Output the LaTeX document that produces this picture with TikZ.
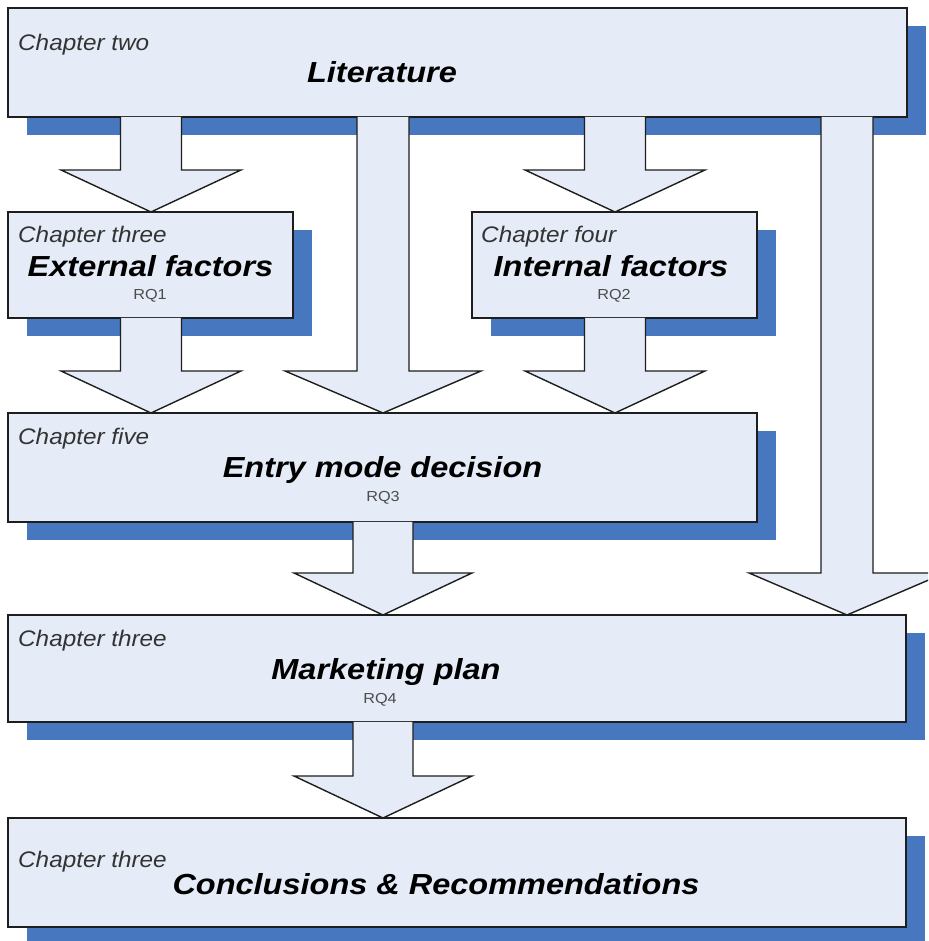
\documentclass[tikz,border=0pt]{standalone}
\usepackage{fontspec}
\usetikzlibrary{calc,shadows}

\newfontfamily\chapfont[FakeStretch=1.08]{Liberation Sans}
\newfontfamily\headfont[FakeStretch=1.12]{Liberation Sans}
\newfontfamily\rqfont[FakeStretch=1.12]{Liberation Sans}

\definecolor{boxfill}{HTML}{E6ECF7}
\definecolor{shadowblue}{HTML}{4677BF}
\definecolor{edge}{HTML}{1E1E1E}

\tikzset{
  box/.style={draw=edge, line width=1.4pt, fill=boxfill, inner sep=0pt, outer sep=0pt,
    drop shadow={shadow xshift=19pt, shadow yshift=-18pt, fill=shadowblue, opacity=1}},
  chap/.style={font=\chapfont\itshape\fontsize{22.5}{26}\selectfont, text=black!80,
    inner sep=0pt, anchor=base west},
  head/.style={font=\headfont\bfseries\itshape\fontsize{29}{34}\selectfont, text=black,
    inner sep=0pt, anchor=base},
  rq/.style={font=\rqfont\fontsize{14.5}{17}\selectfont, text=black!70,
    inner sep=0pt, anchor=base},
  fat/.style={fill=boxfill, draw=edge, line width=1.4pt, line join=miter}
}

% Block arrow from the bottom of one box to the top of another:
% source, target, axis x, shaft half width, head half width
\newcommand\fatarrow[5]{%
  \path[fat] let \p1=(#1.south), \p2=(#2.north) in
    (#3pt-#4pt,\y1) -- (#3pt-#4pt,\y2+42pt) -- (#3pt-#5pt,\y2+42pt) -- (#3pt,\y2)
    -- (#3pt+#5pt,\y2+42pt) -- (#3pt+#4pt,\y2+42pt) -- (#3pt+#4pt,\y1);
}

\begin{document}
\begin{tikzpicture}[x=1pt,y=1pt]
\useasboundingbox (0,0) rectangle (928,941);
\clip (0,0) rectangle (928,941);
\fill[white] (0,0) rectangle (928,941);

% chapter boxes
\node[box, minimum width=899pt, minimum height=109pt] (lit)   at (457.5,878.5) {};
\node[box, minimum width=285pt, minimum height=106pt] (ext)   at (150.5,676)   {};
\node[box, minimum width=285pt, minimum height=106pt] (int)   at (614.5,676)   {};
\node[box, minimum width=749pt, minimum height=109pt] (entry) at (382.5,473.5) {};
\node[box, minimum width=898pt, minimum height=107pt] (mkt)   at (457,272.5)   {};
\node[box, minimum width=898pt, minimum height=109pt] (conc)  at (457,68.5)    {};

% box texts
\node[chap] (litc) at (18,890) {Chapter two};
\node[head] (lith) at (382,858) {Literature};

\node[chap] (extc) at (18,698) {Chapter three};
\node[head] (exth) at (150.5,664) {External factors};
\node[rq]   (extr) at (150,641) {RQ1};

\node[chap] (intc) at (481,698) {Chapter four};
\node[head] (inth) at (611,664) {Internal factors};
\node[rq]   (intr) at (614,641) {RQ2};

\node[chap] (entc) at (18,496) {Chapter five};
\node[head] (enth) at (382.5,463) {Entry mode decision};
\node[rq]   (entr) at (383,439) {RQ3};

\node[chap] (mktc) at (18,294) {Chapter three};
\node[head] (mkth) at (386,261) {Marketing plan};
\node[rq]   (mktr) at (380,237) {RQ4};

\node[chap] (concc) at (18,73) {Chapter three};
\node[head] (conch) at (436,46) {Conclusions \& Recommendations};

% block arrows
\fatarrow{lit}{ext}{151}{30.5}{90}
\fatarrow{lit}{entry}{383}{26}{98}
\fatarrow{lit}{int}{615}{30.5}{90}
\fatarrow{lit}{mkt}{847}{26}{98}
\fatarrow{ext}{entry}{151}{30.5}{90}
\fatarrow{int}{entry}{615}{30.5}{90}
\fatarrow{entry}{mkt}{383}{30}{89}
\fatarrow{mkt}{conc}{383}{30}{89}
\end{tikzpicture}
\end{document}
